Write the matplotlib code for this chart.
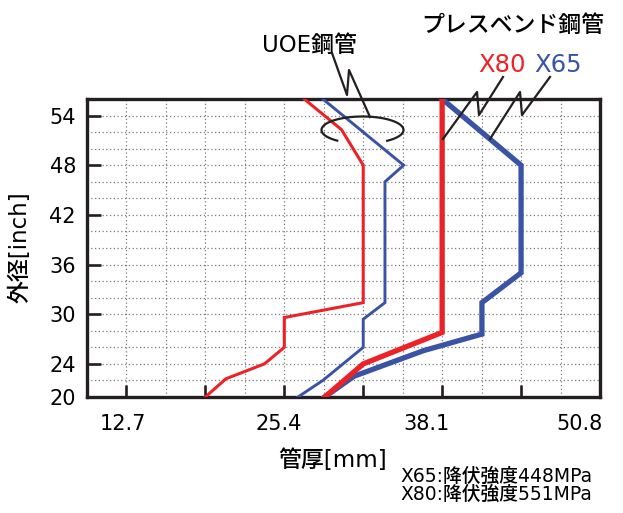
import numpy as np
import matplotlib
matplotlib.use('Agg')
import matplotlib.pyplot as plt
import matplotlib.transforms as mtransforms
from matplotlib.lines import Line2D
from matplotlib.ticker import MultipleLocator

plt.rcParams['font.family'] = ['DejaVu Sans', 'Noto Sans CJK JP']
plt.rcParams['font.weight'] = 'medium'

# 管厚[mm] vs 外径[inch]
uoe_x80_t = [19.05, 20.7, 23.8, 25.4, 25.4, 31.75, 31.75, 30.0, 27.0]
uoe_x80_od = [20, 22.2, 24, 26, 29.6, 31.4, 48, 52.3, 56]

uoe_x65_t = [26.5, 28.5, 31.75, 31.75, 33.5, 33.5, 35.0, 28.5]
uoe_x65_od = [20, 22, 26, 29.4, 31.4, 46, 48, 56]

pb_x80_t = [28.65, 31.75, 38.1, 38.1]
pb_x80_od = [20, 24, 27.8, 56]

pb_x65_t = [28.65, 31.0, 36.6, 41.3, 41.3, 44.45, 44.45, 38.1]
pb_x65_od = [20, 22.5, 25.6, 27.6, 31.4, 35, 48, 56]

x_ticks = [12.7, 19.05, 25.4, 31.75, 38.1, 44.45, 50.8]
x_tick_text = ['12.7', '', '25.4', '', '38.1', '', '50.8']
y_ticks = [20, 24, 30, 36, 42, 48, 54]

RED = '#ec2227'
BLUE = '#3a53a4'
INK = '#231f20'

W, H = 623, 513


def fx(px):
    return px / W


def fy(py):
    return 1 - py / H


fig = plt.figure(figsize=(W / 100, H / 100), dpi=100)
ax = fig.add_axes([fx(87), fy(397), (600 - 87) / W, (397 - 99) / H])

ax.plot(uoe_x80_t, uoe_x80_od, color=RED, lw=2.2, solid_joinstyle='miter', zorder=3)
ax.plot(uoe_x65_t, uoe_x65_od, color=BLUE, lw=2.1, solid_joinstyle='miter', zorder=3)
ax.plot(pb_x65_t, pb_x65_od, color=BLUE, lw=3.8, solid_joinstyle='miter', zorder=4)
ax.plot(pb_x80_t, pb_x80_od, color=RED, lw=3.8, solid_joinstyle='miter', zorder=5)

ax.set_xlim(9.525, 50.8)
ax.set_ylim(20, 56)
ax.set_xticks(x_ticks)
ax.set_xticklabels(x_tick_text)
ax.set_yticks(y_ticks)
ax.xaxis.set_minor_locator(MultipleLocator(3.175))
ax.yaxis.set_minor_locator(MultipleLocator(2))

ax.tick_params(which='minor', length=0)
ax.tick_params(which='major', direction='in', width=1.9, color=INK, labelsize=15)
ax.tick_params(axis='x', which='major', length=9, pad=12)
ax.tick_params(axis='y', which='major', length=10, pad=8)
ax.grid(which='both', linestyle=(0, (1, 2)), color='#7a7a7a', lw=0.9)
ax.set_axisbelow(True)
for s in ax.spines.values():
    s.set_linewidth(2.4)
    s.set_color(INK)

# tick labels in the original sit a bit left of their ticks
shifts = [-4, 0, -6, 0, -16, 0, -20]
for lab, dx in zip(ax.get_xticklabels(), shifts):
    lab.set_transform(lab.get_transform() +
                      mtransforms.ScaledTranslation(dx / fig.dpi, 0, fig.dpi_scale_trans))

fig.text(fx(20), fy(247), '外径[inch]', rotation=90, ha='center', va='center', fontsize=16.5)
fig.text(fx(333), fy(461), '管厚[mm]', ha='center', va='center', fontsize=16.5)
fig.text(fx(400), fy(476), 'X65:降伏強度448MPa', ha='left', va='center', fontsize=13.5)
fig.text(fx(400), fy(494), 'X80:降伏強度551MPa', ha='left', va='center', fontsize=13.5)

# callouts
fig.text(fx(309), fy(45), 'UOE鋼管', ha='center', va='center', fontsize=16.5)
fig.text(fx(513), fy(26), 'プレスベンド鋼管', ha='center', va='center', fontsize=16.5)
fig.text(fx(502), fy(65), 'X80', color=RED, ha='center', va='center', fontsize=17.5)
fig.text(fx(558), fy(65), 'X65', color=BLUE, ha='center', va='center', fontsize=17.5)


def leader(pts):
    xs = [fx(p[0]) for p in pts]
    ys = [fy(p[1]) for p in pts]
    fig.add_artist(Line2D(xs, ys, transform=fig.transFigure, color=INK, lw=1.6, zorder=10))


leader([(332, 53), (347, 95), (349, 70), (370, 117)])
leader([(503, 77), (479, 115), (477, 92), (443, 139)])
leader([(550, 77), (522, 115), (520, 92), (490, 139)])

# open ellipse round the UOE lines
t = np.radians(np.linspace(-53, 232, 100))
ex = 362.5 + 41 * np.cos(t)
ey = 130 - 13.5 * np.sin(t)
fig.add_artist(Line2D(fx(ex), fy(ey), transform=fig.transFigure, color=INK, lw=1.6, zorder=10))

fig.savefig('out.png', dpi=100)
